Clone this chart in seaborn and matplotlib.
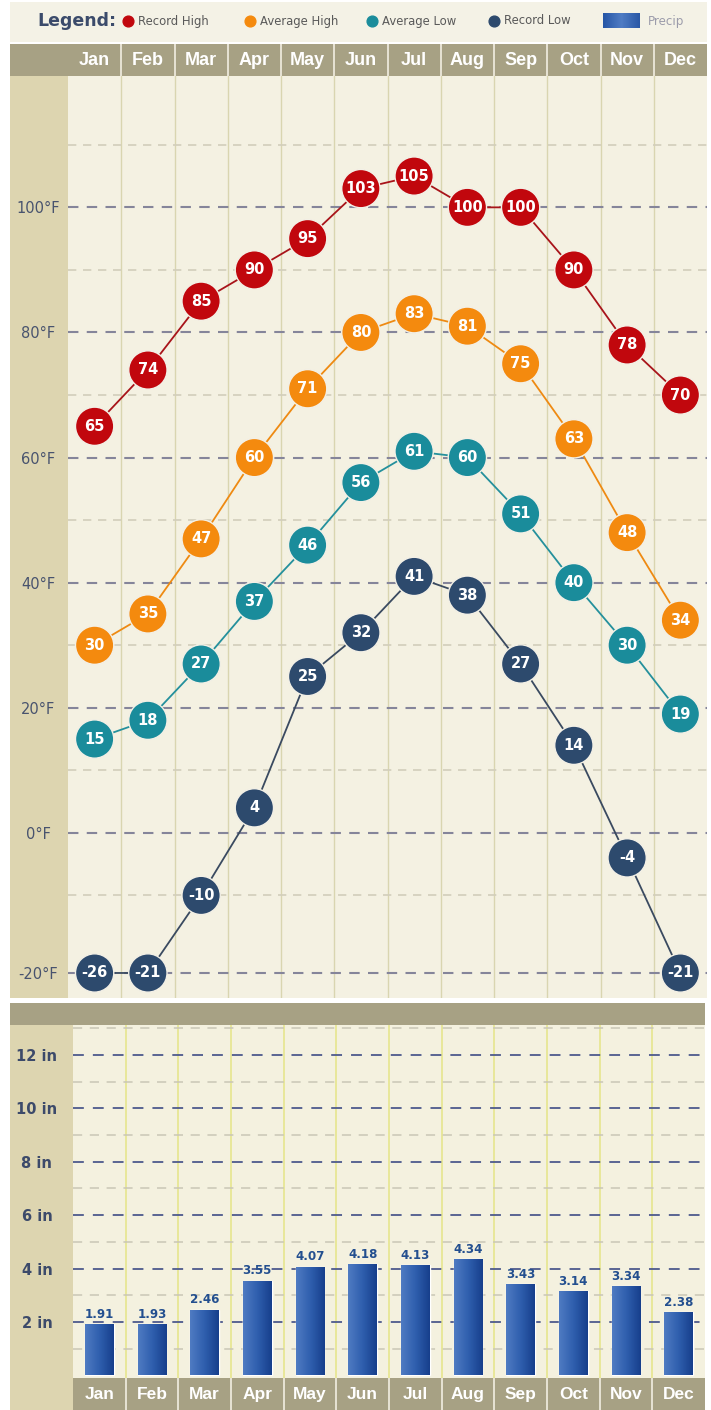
import numpy as np
import pandas as pd
import matplotlib.pyplot as plt
import seaborn as sns
from matplotlib.colors import LinearSegmentedColormap

# --- data ---
months = ['Jan', 'Feb', 'Mar', 'Apr', 'May', 'Jun', 'Jul', 'Aug', 'Sep', 'Oct', 'Nov', 'Dec']
record_high = [65, 74, 85, 90, 95, 103, 105, 100, 100, 90, 78, 70]
average_high = [30, 35, 47, 60, 71, 80, 83, 81, 75, 63, 48, 34]
average_low = [15, 18, 27, 37, 46, 56, 61, 60, 51, 40, 30, 19]
record_low = [-26, -21, -10, 4, 25, 32, 41, 38, 27, 14, -4, -21]
precip = [1.91, 1.93, 2.46, 3.55, 4.07, 4.18, 4.13, 4.34, 3.43, 3.14, 3.34, 2.38]
temp_ticks = [100, 80, 60, 40, 20, 0]
temp_minor = [110, 90, 70, 50, 30, 10, -10]
precip_ticks = [2, 4, 6, 8, 10, 12]
precip_minor = [1, 3, 5, 7, 9, 11, 13]

series_names = ['Record High', 'Average High', 'Average Low', 'Record Low']
marker_colors = ['#c1070d', '#f48a0e', '#1a8c9b', '#2d4a6d']
line_colors = ['#a8141a', '#ee8a12', '#24909c', '#3a4a60']

# the original widget pins everything at/below -20F onto its bottom line
floor = -22.4

sns.set_style('white')
plt.rcParams['font.family'] = ['DejaVu Sans']

W, H = 711, 1410
fig = plt.figure(figsize=(W / 100, H / 100), dpi=100, facecolor='white')


def box(x0, y0, x1, y1):
    return [x0 / W, 1 - y1 / H, (x1 - x0) / W, (y1 - y0) / H]


def band(x0, y0, x1, y1, color):
    fig.add_artist(plt.Rectangle((x0 / W, 1 - y1 / H), (x1 - x0) / W, (y1 - y0) / H,
                                 transform=fig.transFigure, color=color, zorder=-5, lw=0))


khaki = '#a7a184'
gutter = '#ddd5b0'

# background bands
band(10, 2, 707, 42, '#f4f2e6')
band(10, 44, 707, 76, khaki)
band(10, 76, 68, 998, gutter)
band(10, 1003, 705, 1025, khaki)
band(10, 1025, 73, 1410, gutter)
band(73, 1378, 705, 1410, khaki)

# --- legend strip ---
lg = fig.add_axes(box(0, 0, W, 42))
lg.axis('off')
lg.text(37, 21, 'Legend:', fontsize=12.5, fontweight='bold', color='#3b4b6b', va='center')
legend_x = [128, 250, 372, 494]
for name, c, lx in zip(series_names, marker_colors, legend_x):
    lg.scatter([lx], [21], s=60, color=c, zorder=3)
    lg.text(lx + 10, 21, name, fontsize=8.4, color='#5a5a5a', va='center')
lg_grad = LinearSegmentedColormap.from_list('lg', ['#2656a6', '#4f7cc4', '#2a58a6'])
lg.imshow(np.linspace(0, 1, 50)[None, :], cmap=lg_grad, extent=[603, 640, 28, 13], aspect='auto')
lg.text(648, 21, 'Precip', fontsize=8.6, color='#9c9cab', va='center')
lg.set_xlim(0, W)
lg.set_ylim(42, 0)

# --- temperature panel ---
df_t = pd.DataFrame({
    'idx': np.tile(np.arange(12), 4),
    'series': np.repeat(series_names, 12),
    'temp': record_high + average_high + average_low + record_low,
})
df_t['plot_temp'] = df_t['temp'].where(df_t['temp'] > -20, floor)

ax = fig.add_axes(box(68, 76, 707, 998))
ax.set_facecolor('#f4f1e2')
for b in np.arange(0.5, 11.5):
    ax.axvline(b, color='#d9d5b0', lw=1, zorder=0.5)
sns.lineplot(data=df_t, x='idx', y='plot_temp', hue='series', hue_order=series_names,
             palette=line_colors, lw=1.3, estimator=None, legend=False, ax=ax, zorder=2)
sns.scatterplot(data=df_t, x='idx', y='plot_temp', hue='series', hue_order=series_names,
                palette=marker_colors, s=760, edgecolor='#f3f0e6', linewidth=1,
                legend=False, ax=ax, zorder=3)
for _, r in df_t.iterrows():
    ax.text(r['idx'], r['plot_temp'], str(r['temp']), color='white', fontsize=10.5,
            fontweight='bold', ha='center', va='center', zorder=4)

ax.set_xlim(-0.5, 11.5)
ax.set_ylim(-26.4, 121.0)
ax.set_yticks(temp_ticks + [floor])
ax.set_yticklabels([f'{t}\u00b0F' for t in temp_ticks] + ['-20\u00b0F'])
ax.set_yticks(temp_minor, minor=True)
ax.grid(axis='y', which='major', color='#85859a', ls=(0, (5, 4)), lw=1.5)
ax.grid(axis='y', which='minor', color='#d2cebb', ls=(0, (5, 4)), lw=1.2)
ax.grid(axis='x', visible=False)
ax.tick_params(axis='y', which='both', length=0, pad=21.5, labelsize=10.5, labelcolor='#48536e')
for lbl in ax.get_yticklabels():
    lbl.set_ha('center')
ax.xaxis.tick_top()
ax.set_xticks(range(12), months)
ax.tick_params(axis='x', length=0, pad=11.5, labelsize=13, labelcolor='white')
for lbl in ax.get_xticklabels():
    lbl.set_fontweight('bold')
    lbl.set_fontfamily('Liberation Sans')
    lbl.set_va('center')
ax.vlines(np.arange(0.5, 11.5), 1.0, 1 + 32 / 922, transform=ax.get_xaxis_transform(),
          colors='#f2efe2', lw=1.2, clip_on=False)
ax.set_xlabel('')
ax.set_ylabel('')
sns.despine(ax=ax, left=True, bottom=True)

# --- precipitation panel ---
df_p = pd.DataFrame({'month': months, 'precip': precip})
bx = fig.add_axes(box(73, 1025, 705, 1378))
bx.set_facecolor('#f4f1df')
for b in np.arange(0.5, 11.5):
    bx.axvline(b, color='#e6e68e', lw=1.2, zorder=0.5)
sns.barplot(data=df_p, x='month', y='precip', color='#2a58a6', width=0.55, ax=bx, zorder=2)
bar_grad = LinearSegmentedColormap.from_list('bar', ['#4f7bc2', '#2f5fae', '#173f8c'])
for p, v in zip(bx.patches, precip):
    x0, w, h = p.get_x(), p.get_width(), p.get_height()
    im = bx.imshow(np.linspace(0, 1, 64)[None, :], cmap=bar_grad, aspect='auto',
                   extent=[x0, x0 + w, 0, h], zorder=2.5)
    im.set_clip_path(p)
    bx.text(x0 + w / 2, h + 0.12, f'{v:.2f}', color='#234f8f', fontsize=8.6,
            fontweight='bold', ha='center', va='bottom', zorder=4)

bx.set_xlim(-0.5, 11.5)
bx.set_ylim(-0.1, 13.12)
bx.set_yticks(precip_ticks)
bx.set_yticklabels([f'{t} in' for t in precip_ticks])
bx.set_yticks(precip_minor, minor=True)
bx.grid(axis='y', which='major', color='#4d5a8c', ls=(0, (6, 5)), lw=1.3)
bx.grid(axis='y', which='minor', color='#c9c6b6', ls=(0, (6, 5)), lw=1.1)
bx.grid(axis='x', visible=False)
bx.tick_params(axis='y', which='both', length=0, pad=26, labelsize=10.5, labelcolor='#3c4a6a')
for lbl in bx.get_yticklabels():
    lbl.set_ha('center')
    lbl.set_fontweight('bold')
bx.tick_params(axis='x', length=0, pad=12, labelsize=12.5, labelcolor='white')
for lbl in bx.get_xticklabels():
    lbl.set_fontweight('bold')
    lbl.set_fontfamily('Liberation Sans')
    lbl.set_va('center')
bx.vlines(np.arange(0.5, 11.5), -32 / 353, 0, transform=bx.get_xaxis_transform(),
          colors='#f2efe2', lw=1.2, clip_on=False)
bx.set_xlabel('')
bx.set_ylabel('')
sns.despine(ax=bx, left=True, bottom=True)

fig.savefig('out.png', dpi=100, facecolor='white')
